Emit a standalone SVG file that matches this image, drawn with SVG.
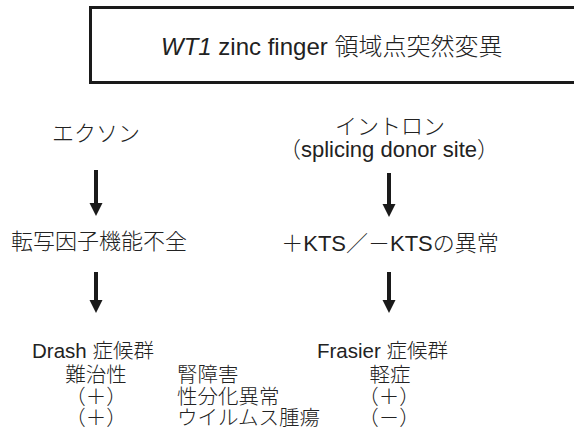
<svg xmlns="http://www.w3.org/2000/svg" width="574" height="435" viewBox="0 0 574 435">
<style>
  text { font-family: "Liberation Sans", "Noto Sans CJK JP", sans-serif; font-size: 22px; font-weight: 300; fill: #222222; }
  .mid { text-anchor: middle; }
  .title { font-size: 24px; }
  .small { font-size: 20.5px; }
  .box { fill: #ffffff; stroke: #1a1a1a; stroke-width: 3; }
  .shaft { stroke: #1a1a1a; stroke-width: 4; fill: none; }
  .head { fill: #1a1a1a; }
</style>
<rect x="0" y="0" width="574" height="435" fill="#ffffff"/>
<g id="title-node">
  <rect class="box" x="90.5" y="7.5" width="600" height="75"/>
  <text class="title" x="161" y="55"><tspan font-style="italic">WT1</tspan>  zinc finger 領域点突然変異</text>
</g>
<g id="exon">
  <text class="mid" x="96" y="141">エクソン</text>
</g>
<g id="intron">
  <text class="mid" x="390" y="134">イントロン</text>
  <text class="mid" x="389" y="157">（splicing donor site）</text>
</g>
<g id="tf-dysfunction">
  <text class="mid" x="99" y="249">転写因子機能不全</text>
</g>
<g id="kts-abnormality">
  <text class="mid" x="390" y="251">＋KTS／－KTSの異常</text>
</g>
<g id="drash">
  <text class="small" x="32" y="358">Drash 症候群</text>
  <text class="small mid" x="96" y="382">難治性</text>
  <text class="small mid" x="96" y="404">（＋）</text>
  <text class="small mid" x="96" y="425">（＋）</text>
</g>
<g id="features">
  <text class="small" x="177" y="382">腎障害</text>
  <text class="small" x="177" y="404">性分化異常</text>
  <text class="small" x="177" y="425">ウイルムス腫瘍</text>
</g>
<g id="frasier">
  <text class="small" x="317" y="358">Frasier 症候群</text>
  <text class="small mid" x="390" y="382">軽症</text>
  <text class="small mid" x="389" y="404">（＋）</text>
  <text class="small mid" x="389" y="425">（－）</text>
</g>
<g id="connectors">
  <line class="shaft" x1="96" y1="170" x2="96" y2="206"/>
  <polygon class="head" points="89.5,203 102.5,203 96,216"/>
  <line class="shaft" x1="389" y1="173" x2="389" y2="207"/>
  <polygon class="head" points="382.5,204 395.5,204 389,217"/>
  <line class="shaft" x1="96" y1="272" x2="96" y2="303"/>
  <polygon class="head" points="89.5,300 102.5,300 96,313"/>
  <line class="shaft" x1="389" y1="272" x2="389" y2="303"/>
  <polygon class="head" points="382.5,300 395.5,300 389,313"/>
</g>
</svg>
